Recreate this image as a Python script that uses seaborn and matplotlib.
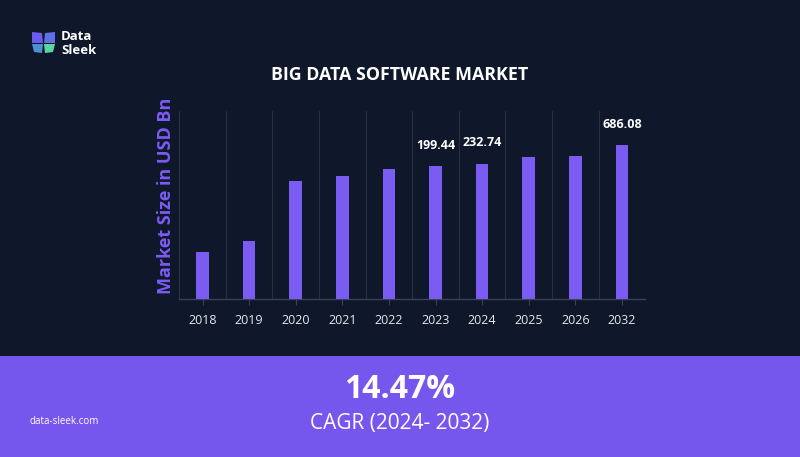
import numpy as np
import pandas as pd
import matplotlib.pyplot as plt
import seaborn as sns
from matplotlib.patches import Rectangle, Polygon

# дані (ринок big data software, млрд USD; вісь Y логарифмічна)
years = ["2018", "2019", "2020", "2021", "2022", "2023", "2024", "2025", "2026", "2032"]
market_size = [1.29, 2.45, 83.0, 112.0, 168.0, 199.44, 232.74, 341.0, 361.0, 686.08]
shown_labels = ["", "", "", "", "", "199.44", "232.74", "", "", "686.08"]

title = "BIG DATA SOFTWARE MARKET"
y_label = "Market Size in USD Bn"
cagr_value = "14.47%"
cagr_text = "CAGR (2024- 2032)"

BG = "#0f172b"
PURPLE = "#7b5cf3"
BAND = "#7657ed"

df = pd.DataFrame({"Year": years, "Size": market_size, "Label": shown_labels})

sns.set_theme(style="dark")
plt.rcParams["font.family"] = ["Open Sans", "DejaVu Sans"]

fig = plt.figure(figsize=(8, 4.57), dpi=100, facecolor=BG)
ax = fig.add_axes([0.224, 0.3457, 0.5825, 0.411])
ax.set_facecolor(BG)

sns.barplot(data=df, x="Year", y="Size", color=PURPLE, width=0.27,
            saturation=1, linewidth=0, ax=ax, zorder=3)
ax.set_yscale("log")
ax.set_ylim(10 ** -1.09, 10 ** 3.706)
ax.set_xlim(-0.5, len(years) - 0.5)

# вертикальні лінії між категоріями
for b in np.arange(-0.5, len(years) - 1):
    ax.axvline(b, color="#283044", lw=0.8, zorder=1)

for sp in ["top", "right", "left"]:
    ax.spines[sp].set_visible(False)
ax.spines["bottom"].set_color("#3a4255")
ax.spines["bottom"].set_linewidth(1)

ax.set_yticks([])
ax.minorticks_off()
ax.tick_params(axis="x", colors="#3a4255", length=4, width=0.8, pad=7,
               labelcolor="#e6e8ee", labelsize=9, bottom=True)
ax.set_xlabel("")
ax.set_ylabel(y_label, color=PURPLE, fontsize=13, fontweight="bold")
ax.yaxis.set_label_coords(-0.01, 0.55)

for i, (v, lab) in enumerate(zip(market_size, shown_labels)):
    if lab:
        ax.annotate(lab, (i, v), xytext=(0, 15), textcoords="offset points",
                    ha="center", va="center", color="white", fontsize=9,
                    fontweight="bold")

fig.text(0.5, 1 - 75 / 457, title, ha="center", va="center", color="white",
         fontsize=12.8, fontweight="bold")

# нижня смуга з CAGR
fig.patches.append(Rectangle((0, 0), 1, 101 / 457, transform=fig.transFigure,
                             facecolor=BAND, edgecolor="none", zorder=0))
fig.text(0.5, 1 - 389 / 457, cagr_value, ha="center", va="center", color="white",
         fontsize=23, fontweight="bold")
fig.text(0.5, 1 - 424 / 457, cagr_text, ha="center", va="center", color="white",
         fontsize=15)
fig.text(30 / 800, 1 - 422 / 457, "data-sleek.com", ha="left", va="center",
         color="white", fontsize=7)

# логотип
def px(x, y):
    return (x / 800, 1 - y / 457)

logo = [
    ([(32, 32), (42, 33), (43, 43), (32, 43)], "#6b5cf0"),
    ([(44, 43), (45, 33), (55, 32), (55, 43)], "#5f6fe6"),
    ([(32, 44), (43, 44), (42, 53), (34, 52)], "#4b8fd6"),
    ([(44, 44), (55, 44), (53, 52), (45, 53)], "#58d8a0"),
]
for pts, c in logo:
    fig.patches.append(Polygon([px(*p) for p in pts], closed=True,
                               transform=fig.transFigure, facecolor=c,
                               edgecolor="none"))
fig.text(61 / 800, 1 - 37 / 457, "Data", ha="left", va="center", color="white",
         fontsize=9.5, fontweight="bold")
fig.text(61 / 800, 1 - 50 / 457, "Sleek", ha="left", va="center", color="white",
         fontsize=9.5, fontweight="bold")

fig.savefig("out.png", dpi=100, facecolor=BG)
